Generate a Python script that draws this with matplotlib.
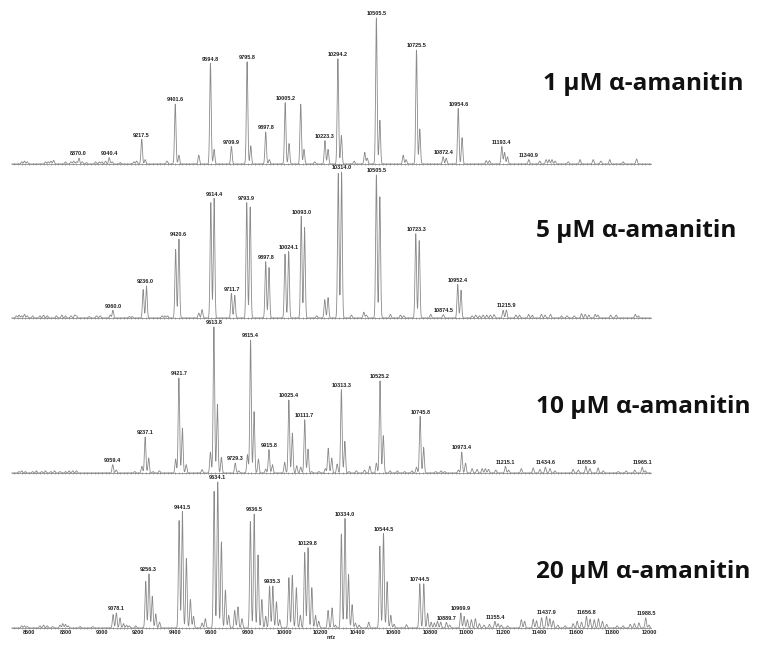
import numpy as np
import matplotlib
matplotlib.use("Agg")
import matplotlib.pyplot as plt
from matplotlib.ticker import MultipleLocator

# ---------------- data: peak positions (m/z) and relative intensities ----------------
p1_mz = [8560, 8575, 8590, 8690, 8705, 8720, 8735, 8800, 8830, 8845, 8860, 8874, 8892, 8915, 8965, 8985,
         9000, 9020, 9040, 9056, 9100, 9175, 9190, 9218, 9237, 9357, 9402, 9422, 9531, 9595, 9615, 9710,
         9796, 9816, 9898, 9918, 10005, 10026, 10090, 10108, 10167, 10223, 10240, 10294, 10313, 10383,
         10441, 10455, 10505, 10524, 10652, 10668, 10725, 10743, 10871, 10888, 10954, 10975, 11107, 11125,
         11193, 11208, 11224, 11341, 11401, 11436, 11452, 11468, 11485, 11557, 11622, 11694, 11736, 11785,
         11858, 11932]
p1_int = [1.5, 2, 1.5, 1.5, 1.5, 2, 2.5, 1.5, 1.5, 2, 1.5, 4, 1.5, 1, 1.5, 1.5,
          1.5, 2, 4.3, 1.5, 1, 1.5, 2, 17, 3, 2, 41, 6, 6, 69, 10, 12,
          70, 12.5, 22, 3, 42, 14, 41, 10, 1.5, 16, 10, 72, 19.5, 2,
          8, 4, 100, 30, 6, 3, 78, 24, 5, 4, 38, 18, 2.3, 2.3,
          12, 8, 5, 3, 2, 3, 3, 3, 2, 1.5, 3, 3, 2, 3,
          1.5, 3.5]
p1_labels = [8870.0, 9040.4, 9217.5, 9401.6, 9594.8, 9709.9, 9795.8, 9897.8, 10005.2, 10223.3,
             10294.2, 10505.5, 10725.5, 10872.4, 10954.6, 11193.4, 11340.9]

p2_mz = [8530, 8545, 8560, 8575, 8590, 8620, 8660, 8680, 8700, 8750, 8780, 8800, 8830, 8850, 8860, 8930,
         8970, 8990, 9045, 9060, 9150, 9165, 9226, 9244, 9330, 9345, 9360, 9404, 9422, 9531, 9549, 9597,
         9615, 9710, 9728, 9794, 9813, 9898, 9916, 10004, 10024, 10093, 10111, 10178, 10222, 10240, 10296,
         10314, 10368, 10436, 10450, 10505, 10524, 10582, 10637, 10655, 10721, 10740, 10803, 10872, 10951,
         10969, 11030, 11050, 11070, 11090, 11110, 11130, 11150, 11200, 11218, 11270, 11290, 11340, 11360,
         11410, 11430, 11460, 11520, 11550, 11590, 11630, 11650, 11670, 11705, 11720, 11790, 11820, 11925,
         11942]
p2_int = [1.5, 2, 1.5, 2.5, 1.5, 1.5, 1.5, 2, 1.5, 1.5, 2, 1.5, 1.5, 2, 1.5, 1,
          1.5, 1.5, 2, 5.3, 1, 1, 19.5, 22, 1.5, 1.5, 1.5, 47, 54, 3.4, 5.7, 79,
          82, 16.8, 15.6, 79, 76, 38.6, 34.5, 43.7, 45.5, 69.7, 62, 1.5, 12.6, 14, 99,
          100, 2, 4, 2, 98, 83, 2.5, 2, 1.5, 57.7, 53, 2.5, 2.3, 23,
          19, 1.5, 2, 1.5, 2, 2, 2, 2.3, 5.3, 5.5, 2, 2, 2.5, 2,
          2.5, 2, 2.5, 1.5, 1.5, 1.5, 3, 2.5, 2, 2.5, 2, 2, 2, 2.5,
          1.5]
p2_labels = [9060.0, 9236.0, 9420.6, 9614.4, 9711.7, 9793.9, 9897.8, 10024.1, 10093.0, 10314.0,
             10505.5, 10723.3, 10874.5, 10952.4, 11215.9]

p3_mz = [8545, 8560, 8580, 8620, 8640, 8670, 8690, 8720, 8740, 8770, 8800, 8820, 8840, 8860, 9059, 9078,
         9180, 9219, 9237, 9256, 9280, 9315, 9404, 9422, 9441, 9462, 9549, 9595, 9614, 9633, 9655, 9731,
         9750, 9798, 9815, 9834, 9858, 9898, 9916, 9935, 10002, 10025, 10044, 10068, 10090, 10112, 10130,
         10150, 10190, 10225, 10241, 10260, 10290, 10313, 10332, 10355, 10395, 10440, 10469, 10505, 10525,
         10543, 10580, 10620, 10660, 10700, 10725, 10745, 10764, 10830, 10860, 10880, 10955, 10973, 10994,
         11030, 11057, 11085, 11103, 11120, 11160, 11213, 11230, 11300, 11365, 11402, 11432, 11457, 11484,
         11584, 11612, 11654, 11676, 11721, 11749, 11831, 11875, 11922, 11963, 11980]
p3_int = [1, 1.5, 1, 1, 1.5, 1, 1.5, 1, 1.5, 1, 1, 1.5, 1.5, 1.5, 5.7, 2,
          1, 4.6, 24.7, 10.3, 1, 1.5, 9.6, 65, 30.8, 5.7, 2.3, 14.4, 100, 47, 10.7, 6.8,
          1.5, 12.6, 91, 42, 9.6, 2.7, 16, 5.7, 7.3, 50, 27.4, 5, 4, 36.5, 16.4,
          1, 1, 3, 17, 10.3, 6.2, 57, 21.7, 1, 1.5, 2, 4.6, 6.8, 63,
          25.6, 1.5, 1.5, 1, 1.5, 4, 38.8, 17.6, 1, 1.5, 1, 2, 14.4, 6.8,
          3, 2.5, 3, 3, 2.5, 2, 4.6, 2, 3, 3.5, 2.5, 4, 3, 1.5,
          2.5, 2, 4.6, 3, 3.5, 1.5, 1, 1.5, 2, 4, 1.5]
p3_labels = [9059.4, 9237.1, 9421.7, 9613.8, 9729.3, 9815.4, 9915.8, 10025.4, 10111.7, 10313.3,
             10525.2, 10745.8, 10973.4, 11215.1, 11434.6, 11655.9, 11965.1]

p4_mz = [8560, 8575, 8590, 8660, 8680, 8700, 8730, 8770, 8785, 8800, 8815, 8880, 8950, 9061, 9079, 9099,
         9118, 9135, 9150, 9185, 9240, 9258, 9276, 9295, 9316, 9423, 9441, 9463, 9485, 9502, 9549, 9567,
         9615, 9635, 9655, 9677, 9695, 9728, 9746, 9768, 9814, 9835, 9856, 9877, 9898, 9919, 9937, 9957,
         9975, 10025, 10044, 10066, 10088, 10112, 10130, 10151, 10171, 10189, 10240, 10262, 10280, 10313,
         10333, 10352, 10372, 10390, 10410, 10463, 10524, 10544, 10564, 10584, 10602, 10670, 10743, 10765,
         10786, 10805, 10823, 10840, 10858, 10889, 10907, 10968, 10986, 11004, 11026, 11048, 11070, 11095,
         11125, 11155, 11172, 11190, 11225, 11300, 11318, 11365, 11383, 11411, 11438, 11456, 11475, 11500,
         11540, 11584, 11606, 11630, 11657, 11677, 11700, 11723, 11745, 11768, 11825, 11858, 11897, 11920,
         11945, 11982, 12000]
p4_int = [1.5, 1.5, 1, 1.5, 2, 1.5, 1, 2, 3, 2.5, 1.5, 1, 1, 9.2, 10.3, 6.9,
          3, 2, 1.5, 1.5, 32, 37, 21.8, 9.7, 4, 73.6, 79.8, 47.6, 19.5, 8, 3.4, 6.4,
          93.6, 100, 59, 26, 8.7, 12, 14.5, 6.4, 72.9, 78, 50, 19.5, 8, 28.7, 28.7, 18,
          5.7, 34.5, 36, 27.6, 8.7, 51.7, 55, 27.6, 8.7, 4.6, 12, 13.8, 2, 64.4,
          75, 36.8, 16, 3.4, 2, 4, 56, 64.8, 31.7, 8.7, 2.5, 2.3, 30.3, 30.3,
          10, 4, 3.5, 4.6, 4, 3.9, 2, 10.3, 8, 5.7, 5.7, 6.4, 3, 2,
          2.5, 4.6, 3, 2, 1.5, 5.7, 4.6, 6, 5, 7, 8, 6.4, 5, 2,
          1.5, 3, 4.6, 4, 8, 6, 5.7, 6.4, 4.6, 2.5, 1.5, 1.5, 2.5, 3,
          3.5, 6.9, 2]
p4_labels = [9078.1, 9256.3, 9441.5, 9634.1, 9836.5, 9935.3, 10129.8, 10334.0, 10544.5, 10744.5,
             10889.7, 10969.9, 11155.4, 11437.9, 11656.8, 11988.5]

conc_labels = ["1 μM α-amanitin", "5 μM α-amanitin", "10 μM α-amanitin", "20 μM α-amanitin"]
x_label = "m/z"

# ---------------- layout ----------------
W, H = 757, 646
fig = plt.figure(figsize=(W / 100, H / 100), dpi=100)
baselines = [164, 318, 473, 628]
panel_h = 146
x0px, x1px = 11.7, 650.8
xmin, xmax = 8505, 12010
line_col = "#8a8a8a"
grid = np.arange(xmin, xmax + 0.25, 0.5)
sigma = 4.0

panels = [(p1_mz, p1_int, p1_labels), (p2_mz, p2_int, p2_labels),
          (p3_mz, p3_int, p3_labels), (p4_mz, p4_int, p4_labels)]
conc_x = [543, 536, 536, 536]
conc_base = [90, 237, 413, 578]

for i, (mz, inten, labs) in enumerate(panels):
    ax = fig.add_axes([x0px / W, (H - baselines[i]) / H, (x1px - x0px) / W, panel_h / H])
    ax.patch.set_alpha(0)
    spec = np.zeros_like(grid)
    for m, h in zip(mz, inten):
        spec += h * np.exp(-0.5 * ((grid - m) / sigma) ** 2)
    ax.plot(grid, spec, color=line_col, lw=0.6, clip_on=False)
    ax.set_xlim(xmin, xmax)
    ax.set_ylim(0, 100)
    for s in ["top", "right", "left"]:
        ax.spines[s].set_visible(False)
    ax.spines["bottom"].set_color(line_col)
    ax.spines["bottom"].set_linewidth(0.6)
    ax.set_yticks([])
    ax.xaxis.set_major_locator(MultipleLocator(200))
    ax.xaxis.set_minor_locator(MultipleLocator(20))
    ax.tick_params(axis="x", which="both", direction="inout", length=2, width=0.5,
                   color=line_col, labelsize=4, pad=0.5, labelcolor="#222222")
    if i < 3:
        ax.tick_params(labelbottom=False)
    else:
        for t in ax.get_xticklabels():
            t.set_fontfamily("Liberation Sans")
            t.set_fontweight("bold")
        ax.set_xlabel(x_label, fontsize=4, labelpad=0, family="Liberation Sans",
                      fontweight="bold", color="#222222")
    for lab in labs:
        sel = np.abs(grid - lab) <= 15
        top = spec[sel].max()
        ax.annotate(f"{lab:.1f}", xy=(lab, top), xytext=(0, 1.2), textcoords="offset points",
                    ha="center", va="bottom", fontsize=4, family="Liberation Sans",
                    fontweight="bold", color="#222222", annotation_clip=False)

    fig.text(conc_x[i] / W, (H - conc_base[i]) / H, conc_labels[i], ha="left", va="baseline",
             fontsize=17.6, fontweight="bold", family=["Open Sans", "DejaVu Sans"], color="#111111")

fig.savefig("out.png", dpi=100)
